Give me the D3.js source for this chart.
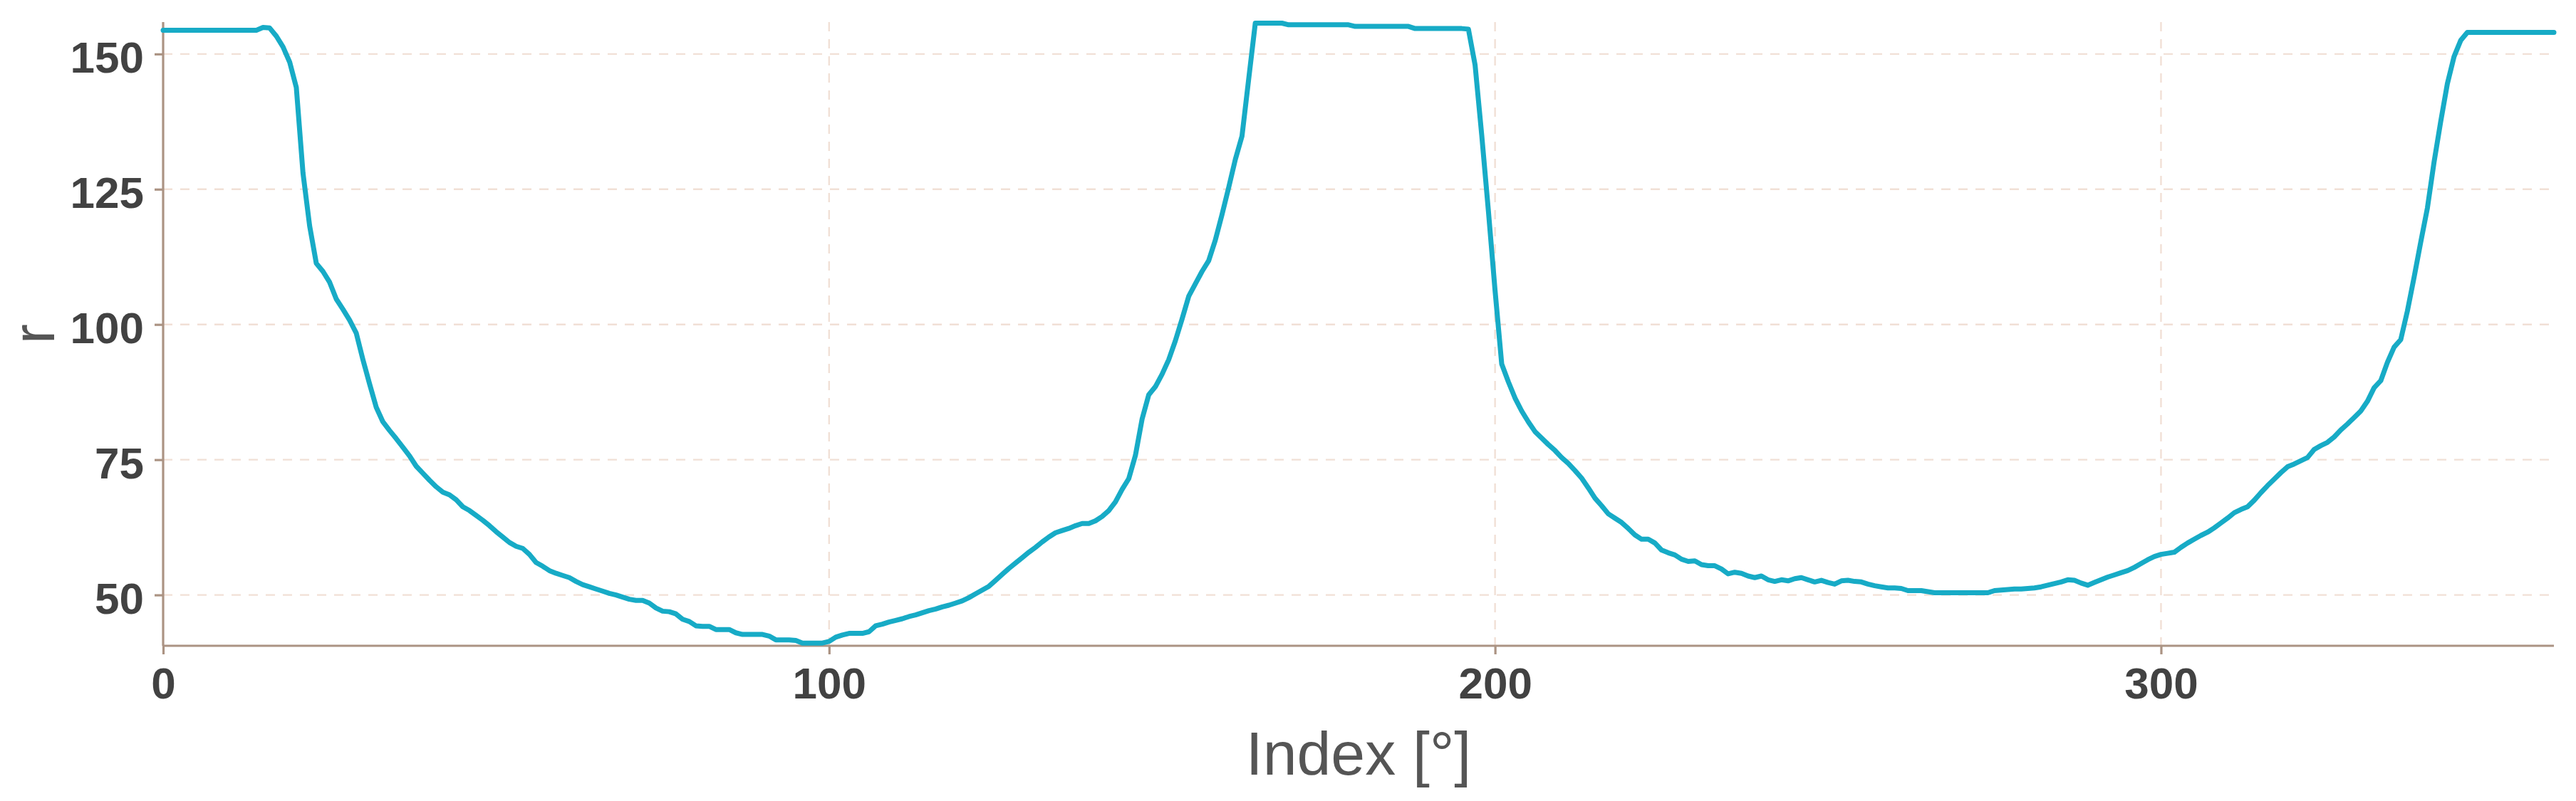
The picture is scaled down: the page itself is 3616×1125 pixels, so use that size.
<!DOCTYPE html>
<html>
<head>
<meta charset="utf-8">
<script src="https://cdn.jsdelivr.net/npm/d3@7"></script>
<style>
  html, body { margin: 0; padding: 0; background: #ffffff; }
  svg { display: block; }
</style>
</head>
<body>
<svg id="chart" width="3616" height="1125"></svg>
<script>
// ---- data ----
const rValues = [
  154.4,154.4,154.4,154.4,154.4,154.4,154.4,154.4,154.4,154.4,
  154.4,154.4,154.4,154.4,154.4,154.9,154.8,153.3,151.3,148.5,
  143.8,128.0,118.2,111.3,109.8,107.8,104.7,102.8,100.8,98.4,
  93.5,89.0,84.7,82.0,80.4,78.9,77.3,75.7,73.8,72.5,
  71.2,70.0,69.0,68.5,67.6,66.3,65.6,64.7,63.8,62.8,
  61.7,60.7,59.7,59.0,58.6,57.5,56.0,55.3,54.5,54.0,
  53.6,53.2,52.5,51.9,51.5,51.1,50.7,50.3,50.0,49.6,
  49.2,49.0,49.0,48.5,47.6,47.0,46.9,46.5,45.5,45.1,
  44.3,44.2,44.2,43.6,43.6,43.6,43.0,42.7,42.7,42.7,
  42.7,42.4,41.7,41.7,41.7,41.6,41.1,41.1,41.1,41.1,
  41.4,42.2,42.6,42.9,42.9,42.9,43.2,44.3,44.6,45.0,
  45.3,45.6,46.0,46.3,46.7,47.1,47.4,47.8,48.1,48.5,
  48.9,49.5,50.2,50.9,51.6,52.7,53.8,54.9,55.9,56.9,
  57.9,58.8,59.8,60.7,61.5,61.9,62.3,62.8,63.2,63.2,
  63.7,64.5,65.6,67.2,69.5,71.5,75.8,82.5,87.0,88.5,
  90.8,93.5,97.0,101.0,105.2,107.5,109.8,111.8,115.6,120.3,
  125.3,130.5,134.8,145.3,155.7,155.7,155.7,155.7,155.7,155.4,
  155.4,155.4,155.4,155.4,155.4,155.4,155.4,155.4,155.4,155.1,
  155.1,155.1,155.1,155.1,155.1,155.1,155.1,155.1,154.7,154.7,
  154.7,154.7,154.7,154.7,154.7,154.7,154.6,148.0,135.0,121.0,
  106.3,92.7,89.4,86.4,84.0,82.0,80.2,79.0,77.8,76.7,
  75.4,74.3,73.0,71.6,69.8,67.9,66.5,65.0,64.2,63.4,
  62.3,61.1,60.3,60.3,59.6,58.3,57.8,57.4,56.6,56.2,
  56.3,55.6,55.4,55.4,54.8,53.9,54.2,54.0,53.5,53.2,
  53.5,52.8,52.5,52.8,52.6,53.0,53.2,52.8,52.4,52.7,
  52.3,52.0,52.6,52.7,52.5,52.4,52.0,51.7,51.5,51.3,
  51.3,51.2,50.8,50.8,50.8,50.6,50.4,50.4,50.4,50.4,
  50.4,50.4,50.4,50.4,50.4,50.8,50.9,51.0,51.1,51.1,
  51.2,51.3,51.5,51.8,52.1,52.4,52.8,52.7,52.2,51.8,
  52.3,52.8,53.3,53.7,54.1,54.5,55.1,55.8,56.5,57.1,
  57.5,57.7,57.9,58.8,59.6,60.3,61.0,61.6,62.4,63.3,
  64.2,65.2,65.8,66.3,67.5,68.9,70.2,71.4,72.6,73.7,
  74.2,74.8,75.4,76.9,77.6,78.2,79.2,80.5,81.6,82.8,
  84.0,85.8,88.3,89.6,93.0,95.8,97.2,102.5,108.7,115.2,
  121.5,130.0,137.5,144.5,149.5,152.5,154.0,154.0,154.0,154.0,
  154.0,154.0,154.0,154.0,154.0,154.0,154.0,154.0,154.0,154.0
];
const xTicks = [0, 100, 200, 300];
const yTicks = [50, 75, 100, 125, 150];
const xDomain = [0, 359];
const yDomain = [40.6, 155.9];
const xLabel = "Index [°]";
const yLabel = "r";

(function () {
  // ---- layout ----
  const W = 3616, H = 1125;
  const mLeft = 229, mRight = 3585, mTop = 31, mBottom = 907;
  const axisColor = "#ab9383";
  const gridColor = "#f1e0d6";
  const lineColor = "#17abc6";
  const tickTextColor = "#424242";
  const labelColor = "#555555";
  const font = "'Liberation Sans', Arial, Helvetica, sans-serif";

  const svg = d3.select("#chart");
  svg.append("rect").attr("width", W).attr("height", H).attr("fill", "#ffffff");

  const x = d3.scaleLinear().domain(xDomain).range([mLeft, mRight]);
  const y = d3.scaleLinear().domain(yDomain).range([mBottom, mTop]);

  // grid
  const grid = svg.append("g");
  grid.selectAll("line.h").data(yTicks).join("line")
    .attr("class", "h")
    .attr("x1", mLeft).attr("x2", mRight)
    .attr("y1", d => y(d)).attr("y2", d => y(d))
    .attr("stroke", gridColor).attr("stroke-width", 2.4)
    .attr("stroke-dasharray", "13,11");
  grid.selectAll("line.v").data(xTicks.filter(d => d !== 0)).join("line")
    .attr("class", "v")
    .attr("x1", d => x(d)).attr("x2", d => x(d))
    .attr("y1", mTop).attr("y2", mBottom)
    .attr("stroke", gridColor).attr("stroke-width", 2.4)
    .attr("stroke-dasharray", "13,11");

  // axes
  const xAxis = d3.axisBottom(x).tickValues(xTicks).tickSize(12).tickPadding(18).tickFormat(d3.format("d"));
  const yAxis = d3.axisLeft(y).tickValues(yTicks).tickSize(12).tickPadding(15).tickFormat(d3.format("d"));

  const gx = svg.append("g").attr("transform", `translate(0,${mBottom})`).call(xAxis);
  const gy = svg.append("g").attr("transform", `translate(${mLeft},0)`).call(yAxis);

  [gx, gy].forEach(g => {
    g.select(".domain").attr("stroke", axisColor).attr("stroke-width", 3.2);
    g.selectAll(".tick line").attr("stroke", axisColor).attr("stroke-width", 3.2);
    g.selectAll(".tick text")
      .attr("fill", tickTextColor)
      .attr("font-family", font)
      .attr("font-weight", "bold")
      .attr("font-size", 62);
  });
  gx.select(".domain").attr("d", `M${mLeft},0H${mRight}`);
  gy.select(".domain").attr("d", `M0,${mTop}V${mBottom}`);
  gy.selectAll(".tick text").attr("dy", "0.42em");

  // line
  const line = d3.line()
    .x((d, i) => x(i))
    .y(d => y(d));
  svg.append("path")
    .datum(rValues)
    .attr("d", line)
    .attr("fill", "none")
    .attr("stroke", lineColor)
    .attr("stroke-width", 7)
    .attr("stroke-linejoin", "round")
    .attr("stroke-linecap", "round");

  // axis labels
  svg.append("text")
    .attr("x", (mLeft + mRight) / 2)
    .attr("y", 1088)
    .attr("text-anchor", "middle")
    .attr("font-family", font)
    .attr("font-size", 86)
    .attr("fill", labelColor)
    .text(xLabel);

  svg.append("text")
    .attr("transform", `translate(76,${(mTop + mBottom) / 2}) rotate(-90)`)
    .attr("text-anchor", "middle")
    .attr("font-family", font)
    .attr("font-size", 84)
    .attr("fill", labelColor)
    .text(yLabel);
})();
</script>
</body>
</html>
